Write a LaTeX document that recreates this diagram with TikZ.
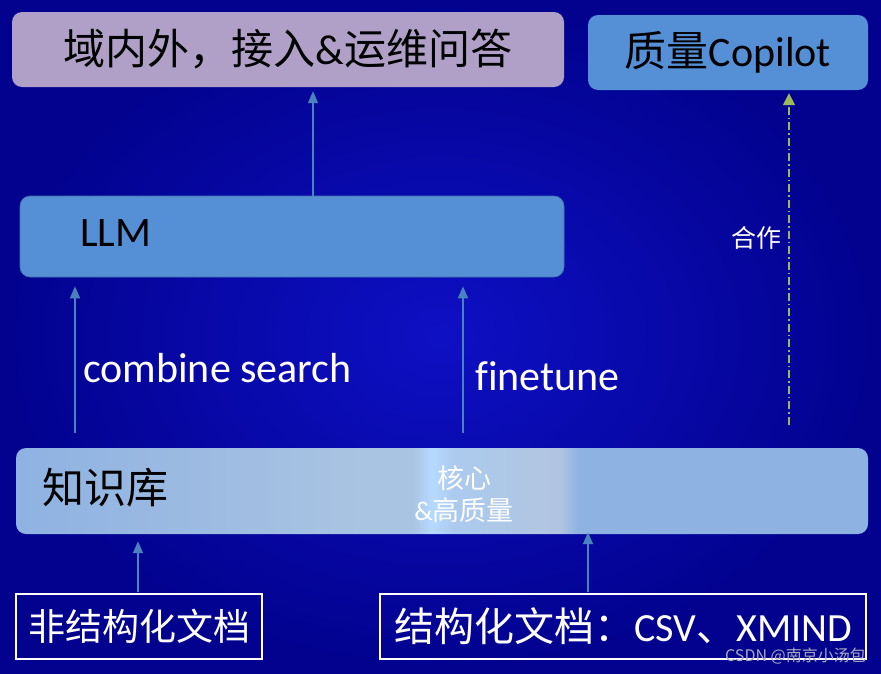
\documentclass[tikz,border=0pt]{standalone}
\usepackage{fontspec}
\setmainfont{Carlito}[Ligatures=NoCommon]
\newfontfamily\cjk{Noto Sans CJK SC}
\usetikzlibrary{arrows.meta}
\definecolor{bgin}{HTML}{0E10C4}
\definecolor{bgout}{HTML}{02028E}
\definecolor{lav}{HTML}{B0A0C8}
\definecolor{bluebox}{HTML}{5590D6}
\definecolor{arrc}{HTML}{4A82BE}
\definecolor{grn}{HTML}{9BBB59}
\definecolor{kbA}{HTML}{8EB2E2}
\definecolor{kbB}{HTML}{A9C3E2}
\definecolor{kbC}{HTML}{B6DAFF}
\definecolor{kbD}{HTML}{ACCAEE}
\definecolor{kbE}{HTML}{B1C5E0}
\definecolor{wm}{HTML}{A8A8C0}
\pgfdeclarehorizontalshading{kbshade}{100bp}{color(0bp)=(kbA); color(25bp)=(kbA); color(45.2bp)=(kbB); color(48.3bp)=(kbB); color(49.4bp)=(kbC); color(50.7bp)=(kbD); color(56.9bp)=(kbE); color(58bp)=(kbA); color(75bp)=(kbA); color(100bp)=(kbA)}
\tikzset{
  rbox/.style={rounded corners=10pt, inner sep=0pt},
  wbox/.style={draw=white, line width=2pt, inner sep=0pt},
  arr/.style={draw=arrc, line width=1.6pt, -{Triangle[width=10pt,length=12pt]}},
  darr/.style={draw=grn, line width=1.6pt, dash pattern=on 8pt off 3pt on 1.5pt off 3pt, -{Triangle[width=12pt,length=12pt,fill=grn]}},
  big/.style={font=\fontsize{42pt}{50pt}\selectfont},
  lbl/.style={inner sep=0pt, text=white}
}
\begin{document}
\begin{tikzpicture}[x=1pt,y=-1pt]
\useasboundingbox (0,0) rectangle (881,673);
\shade[inner color=bgin, outer color=bgout] (0,0) rectangle (881,673);

% boxes
\node[rbox, fill=lav, minimum width=552pt, minimum height=75pt, big] (qa) at (288,49.5) {{\cjk 域内外，接入}\&{\cjk 运维问答}};
\node[rbox, fill=bluebox, minimum width=280pt, minimum height=75pt, big] (cop) at (728,52.5) {{\cjk 质量}Copilot};
\node[rbox, fill=bluebox, draw=bluebox!80!black, line width=0.6pt, minimum width=544pt, minimum height=81pt] (llm) at (292,236.5) {};
\node[inner sep=0pt, anchor=west, big] (llmt) at (80,233) {LLM};
\node[rbox, shading=kbshade, minimum width=852pt, minimum height=86pt] (kb) at (442,491) {};
\node[inner sep=0pt, anchor=west, big] (kbt) at (42,488) {\cjk 知识库};
\node[lbl, align=center, font=\fontsize{27pt}{32pt}\selectfont] (core) at (464,494) {\cjk 核心\\\&{\cjk 高质量}};
\node[wbox, minimum width=246pt, minimum height=65pt, text=white, font=\fontsize{37pt}{44pt}\selectfont] (uns) at (139,626.5) {\cjk 非结构化文档};
\node[wbox, minimum width=486pt, minimum height=65pt, text=white, font=\fontsize{40pt}{46pt}\selectfont] (str) at (623,626) {{\cjk 结构化文档：}CSV{\cjk 、}XMIND};

% labels
\node[lbl, anchor=west, big] (cs) at (83,368) {combine search};
\node[lbl, anchor=west, big] (ft) at (475,376) {finetune};
\node[lbl, font=\fontsize{25pt}{30pt}\selectfont] (hz) at (756,238) {\cjk 合作};
\node[inner sep=0pt, text=wm, anchor=east, font=\fontsize{16pt}{19pt}\selectfont] (wmk) at (866,656) {\cjk CSDN @南京小汤包};

% x positions
\coordinate (xa) at (75,0);
\coordinate (xb) at (463,0);
\coordinate (xc) at (313,0);
\coordinate (xd) at (789,0);
\coordinate (xe) at (138,0);
\coordinate (xf) at (588,0);

% connectors
\draw[arr, shorten <=15pt, shorten >=9pt] (kb.north -| xa) -- (llm.south -| xa);
\draw[arr, shorten <=15pt, shorten >=9pt] (kb.north -| xb) -- (llm.south -| xb);
\draw[arr, shorten >=4pt] (llm.north -| xc) -- (qa.south -| xc);
\draw[darr, shorten <=23pt, shorten >=3pt] (kb.north -| xd) -- (cop.south -| xd);
\draw[arr, shorten <=1pt, shorten >=7pt] (uns.north -| xe) -- (kb.south -| xe);
\draw[arr, shorten <=1pt, shorten >=-2pt] (str.north -| xf) -- (kb.south -| xf);
\end{tikzpicture}
\end{document}
